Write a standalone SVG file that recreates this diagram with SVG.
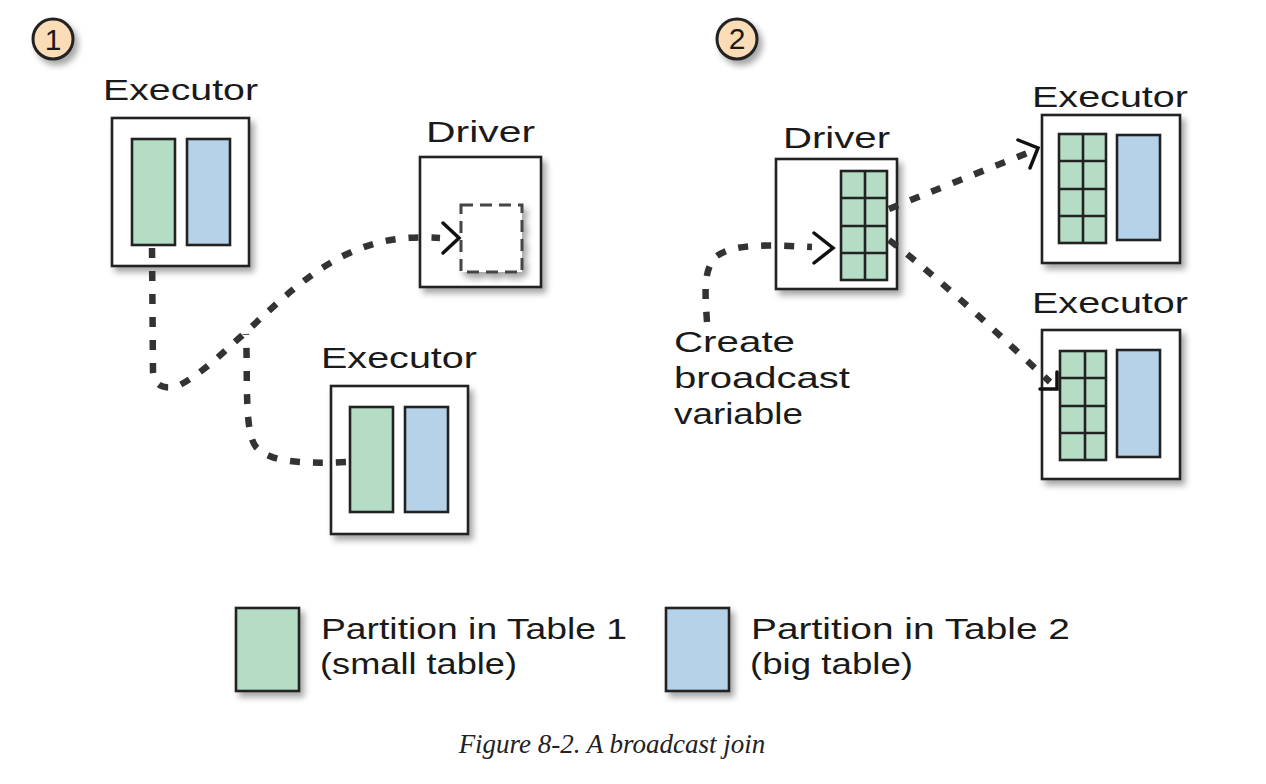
<svg xmlns="http://www.w3.org/2000/svg" width="1266" height="784" viewBox="0 0 1266 784">
<style>
  .hand { font-family: "Liberation Sans", "DejaVu Sans", sans-serif; font-size: 30px; fill: #1a1a1a; }
  .box { fill: #ffffff; stroke: #222; stroke-width: 2.6; filter: url(#sh); }
  .g { fill: #b5dcc5; stroke: #222; stroke-width: 2.6; }
  .b { fill: #b6d2e8; stroke: #222; stroke-width: 2.6; }
  .gridline { stroke: #222; stroke-width: 2.6; fill: none; }
  .num { fill: #fadcb7; stroke: #222; stroke-width: 3; filter: url(#sh); }
  .conn { fill: none; stroke: #333; stroke-width: 6.5; stroke-dasharray: 10 13; }
  .arrow { fill: none; stroke: #111; stroke-width: 3.5; stroke-linecap: round; stroke-linejoin: miter; }
  .cap { font-family: "Liberation Serif", serif; font-style: italic; font-size: 27px; fill: #222; }
</style>
<defs>
  <filter id="sh" x="-20%" y="-20%" width="150%" height="150%">
    <feDropShadow dx="4" dy="5" stdDeviation="3" flood-color="#000" flood-opacity="0.35"/>
  </filter>
</defs>
<rect width="1266" height="784" fill="#ffffff"/>

<g id="step1">
  <circle class="num" cx="53" cy="39" r="20"/>
  <text class="hand" x="53" y="50" text-anchor="middle" font-size="28">1</text>
</g>
<g id="step2">
  <circle class="num" cx="737" cy="39" r="20"/>
  <text class="hand" x="737" y="49" text-anchor="middle" font-size="26">2</text>
</g>

<g id="executor1">
  <text class="hand" x="103" y="100" textLength="155" lengthAdjust="spacingAndGlyphs">Executor</text>
  <rect class="box" x="112" y="118" width="137" height="148"/>
  <rect class="g" x="132" y="139" width="43" height="106"/>
  <rect class="b" x="187" y="139" width="43" height="106"/>
</g>

<g id="driver1">
  <text class="hand" x="426" y="142" textLength="109" lengthAdjust="spacingAndGlyphs">Driver</text>
  <rect class="box" x="420" y="157" width="121" height="130"/>
  <rect x="461" y="205" width="61" height="67" fill="#fff" stroke="#444" stroke-width="3" stroke-dasharray="12 7" filter="url(#sh)"/>
</g>

<g id="executor2">
  <text class="hand" x="321" y="368" textLength="156" lengthAdjust="spacingAndGlyphs">Executor</text>
  <rect class="box" x="331" y="386" width="137" height="148"/>
  <rect class="g" x="350" y="407" width="43" height="105"/>
  <rect class="b" x="405" y="407" width="43" height="105"/>
</g>

<g id="driver2">
  <text class="hand" x="783" y="148" textLength="107" lengthAdjust="spacingAndGlyphs">Driver</text>
  <rect class="box" x="776" y="159" width="121" height="130"/>
  <rect class="g" x="841" y="171" width="46" height="109"/>
  <path class="gridline" d="M865,171 V280 M841,198 H887 M841,226 H887 M841,253 H887"/>
</g>

<g id="executor3">
  <text class="hand" x="1032" y="107" textLength="156" lengthAdjust="spacingAndGlyphs">Executor</text>
  <rect class="box" x="1042" y="115" width="138" height="148"/>
  <rect class="g" x="1059" y="134" width="47" height="109"/>
  <path class="gridline" d="M1083,134 V243 M1059,161 H1106 M1059,189 H1106 M1059,216 H1106"/>
  <rect class="b" x="1117" y="135" width="43" height="105"/>
</g>

<g id="executor4">
  <text class="hand" x="1032" y="313" textLength="156" lengthAdjust="spacingAndGlyphs">Executor</text>
  <rect class="box" x="1042" y="330" width="138" height="149"/>
  <rect class="g" x="1060" y="351" width="46" height="109"/>
  <path class="gridline" d="M1085,351 V460 M1060,378 H1106 M1060,406 H1106 M1060,433 H1106"/>
  <rect class="b" x="1117" y="350" width="43" height="107"/>
</g>

<g id="note">
  <text class="hand" x="674" y="352" textLength="121" lengthAdjust="spacingAndGlyphs">Create</text>
  <text class="hand" x="674" y="388" textLength="176" lengthAdjust="spacingAndGlyphs">broadcast</text>
  <text class="hand" x="674" y="424" textLength="129" lengthAdjust="spacingAndGlyphs">variable</text>
</g>

<g id="legend">
  <rect class="g" x="236" y="608" width="63" height="83" filter="url(#sh)"/>
  <text class="hand" x="321" y="639" textLength="306" lengthAdjust="spacingAndGlyphs">Partition in Table 1</text>
  <text class="hand" x="320" y="674" textLength="197" lengthAdjust="spacingAndGlyphs">(small table)</text>
  <rect class="b" x="666" y="608" width="63" height="83" filter="url(#sh)"/>
  <text class="hand" x="751" y="639" textLength="319" lengthAdjust="spacingAndGlyphs">Partition in Table 2</text>
  <text class="hand" x="750" y="674" textLength="163" lengthAdjust="spacingAndGlyphs">(big table)</text>
</g>

<g id="connectors">
  <path class="conn" d="M152,248 L153,372 Q155,392 178,386 C205,372 225,350 245,333 C280,300 310,272 345,255 C380,238 410,236 440,238"/>
  <path class="conn" d="M346,462 C300,464 270,462 256,447 C244,432 248,380 246,334"/>
  <path class="arrow" d="M443,223 L459,238 L443,253"/>

  <path class="conn" d="M707,322 C705,292 703,268 717,256 C735,243 770,245 812,247"/>
  <path class="arrow" d="M814,233 L833,248 L814,263"/>

  <path class="conn" d="M889,209 C930,192 985,170 1035,150"/>
  <path class="arrow" d="M1018,140 L1038,148 L1030,168"/>

  <path class="conn" d="M889,240 C905,252 918,263 932,275 C970,307 1010,345 1050,382"/>
  <path class="arrow" d="M1040,389 L1057,389 L1057,372"/>
</g>

<text class="cap" x="612" y="753" text-anchor="middle">Figure 8-2. A broadcast join</text>
</svg>
